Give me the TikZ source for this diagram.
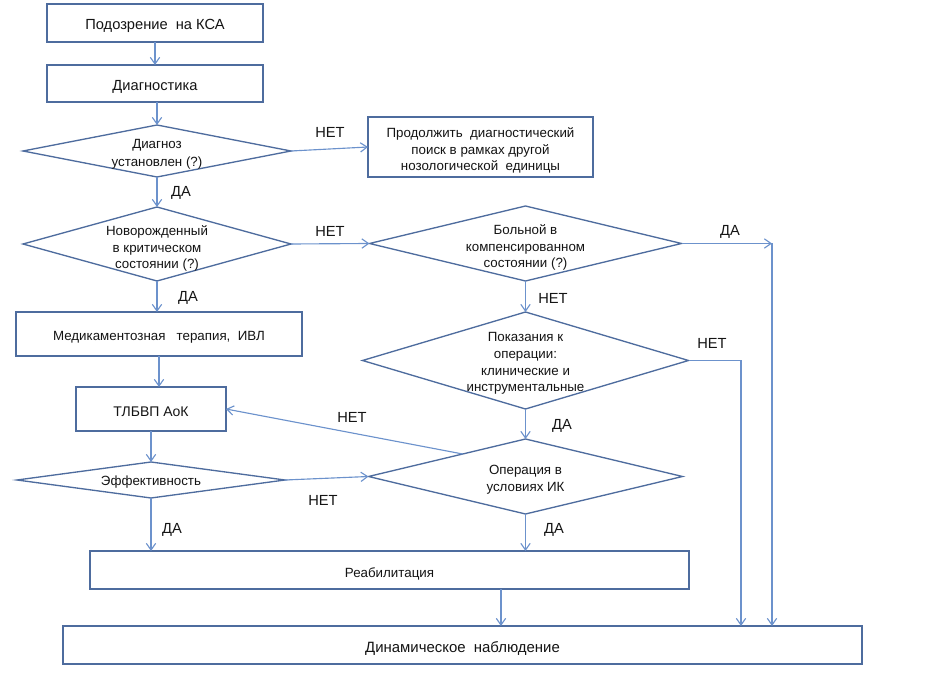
\documentclass[tikz,border=0pt]{standalone}
\usepackage{fontspec}
\setmainfont{Liberation Sans}
\usetikzlibrary{shapes.geometric,arrows.meta,calc}
\definecolor{boxc}{RGB}{78,108,158}
\definecolor{linec}{RGB}{108,146,204}
\definecolor{textc}{RGB}{20,20,20}
\begin{document}
\begin{tikzpicture}[x=0.75pt,y=-0.75pt,
  box/.style={draw=boxc, line width=1pt, fill=white, inner sep=0pt, outer sep=0pt},
  dia/.style={diamond, draw=boxc, line width=1pt, fill=white, inner sep=0pt, outer sep=0pt},
  ttext/.style={align=center, text=textc, inner sep=0pt, font=\fontsize{10}{12.5}\selectfont},
  lbl/.style={text=textc, inner sep=0pt, font=\fontsize{11}{13}\selectfont},
  arr/.style={draw=linec, line width=0.85pt, -{Straight Barb[length=5pt,width=7pt]}},
  ln/.style={draw=linec, line width=0.85pt}]
\useasboundingbox (0,0) rectangle (940,698);

% shapes
\node[box, minimum width=162pt, minimum height=28.5pt] (b1) at (155,23) {};
\node[box, minimum width=162pt, minimum height=27.75pt] (b2) at (155,83.5) {};
\node[dia, minimum width=201pt, minimum height=39pt] (d1) at (157,151) {};
\node[box, minimum width=168.75pt, minimum height=45pt] (b3) at (480.5,147) {};
\node[dia, minimum width=201pt, minimum height=55.5pt] (d2) at (157,244) {};
\node[dia, minimum width=234pt, minimum height=56.25pt] (d3) at (525.5,243.5) {};
\node[box, minimum width=214.5pt, minimum height=33pt] (b4) at (159,334) {};
\node[dia, minimum width=244.5pt, minimum height=72.75pt] (d4) at (525.5,360.5) {};
\node[box, minimum width=112.5pt, minimum height=33pt] (b5) at (151,409) {};
\node[dia, minimum width=201pt, minimum height=27pt] (d5) at (151,480) {};
\node[dia, minimum width=235.5pt, minimum height=56.25pt] (d6) at (525.5,476.5) {};
\node[box, minimum width=449.25pt, minimum height=28.5pt] (b6) at (389.5,570) {};
\node[box, minimum width=599.25pt, minimum height=28.5pt] (b7) at (462.5,645) {};

% texts
\node[ttext, font=\fontsize{11}{13}\selectfont] (b1t) at (155,26) {Подозрение\ \ на КСА};
\node[ttext, font=\fontsize{11}{13}\selectfont] (b2t) at (155,87) {Диагностика};
\node[ttext, font=\fontsize{10}{13.5}\selectfont] (d1t) at (157,154.5) {Диагноз\\установлен (?)};
\node[ttext, font=\fontsize{10}{12.4}\selectfont] (b3t) at (480.5,150.5) {Продолжить\ \ диагностический\\поиск в рамках другой\\нозологической\ \ единицы};
\node[ttext] (d2t) at (157,248.5) {Новорожденный\\в критическом\\состоянии (?)};
\node[ttext] (d3t) at (525.5,247.5) {Больной в\\компенсированном\\состоянии (?)};
\node[ttext] (b4t) at (159,337.5) {Медикаментозная\ \ \ терапия,\ \ ИВЛ};
\node[ttext] (d4t) at (525.5,363.5) {Показания к\\операции:\\клинические и\\инструментальные};
\node[ttext, font=\fontsize{10.5}{12.5}\selectfont] (b5t) at (151,411.5) {ТЛБВП АоК};
\node[ttext] (d5t) at (151,482.5) {Эффективность};
\node[ttext, font=\fontsize{10}{12.8}\selectfont] (d6t) at (525.5,480) {Операция в\\условиях ИК};
\node[ttext] (b6t) at (389.5,573.5) {Реабилитация};
\node[ttext, font=\fontsize{11.2}{13}\selectfont] (b7t) at (462.5,648.5) {Динамическое\ \ наблюдение};

\coordinate (c1) at (772,243.5);
\coordinate (c2) at (741,360.5);

% connectors
\draw[arr] (b1) -- (b2);
\draw[arr] (d1.north |- b2.south) -- (d1.north);
\draw[arr] (d1.east) -- (b3.west);
\draw[arr] (d1.south) -- (d2.north);
\draw[arr] (d2.east) -- (d3.west);
\draw[arr] (d3.east) -- (c1);
\draw[arr] (c1) -- (c1 |- b7.north);
\draw[arr] (d3.south) -- (d4.north);
\draw[ln] (d4.east) -- (c2);
\draw[arr] (c2) -- (c2 |- b7.north);
\draw[arr] (d4.south) -- (d6.north);
\draw[arr] (d6.south) -- (d6.south |- b6.north);
\draw[arr] ([xshift=83.6pt]b6.south) -- ([xshift=83.6pt]b6.south |- b7.north);
\draw[arr] (d2.south) -- (d2.south |- b4.north);
\draw[arr] (b4.south) -- (b4.south |- b5.north);
\draw[arr] (b5.south) -- (d5.north);
\draw[arr] (d5.south) -- (d5.south |- b6.north);
\draw[arr] (d5.east) -- (d6.west);
\draw[arr] ($(d6.west)!0.6!(d6.north)$) -- (b5.east);

% labels
\node[lbl] (l1) at (330,132) {НЕТ};
\node[lbl] (l2) at (181,193) {ДА};
\node[lbl] (l3) at (330,231) {НЕТ};
\node[lbl] (l4) at (730,232) {ДА};
\node[lbl] (l5) at (188,298) {ДА};
\node[lbl] (l6) at (553,298) {НЕТ};
\node[lbl] (l7) at (712,343) {НЕТ};
\node[lbl] (l8) at (352,417) {НЕТ};
\node[lbl] (l9) at (562,426) {ДА};
\node[lbl] (l10) at (323,500) {НЕТ};
\node[lbl] (l11) at (172,530) {ДА};
\node[lbl] (l12) at (554,530) {ДА};
\end{tikzpicture}
\end{document}
